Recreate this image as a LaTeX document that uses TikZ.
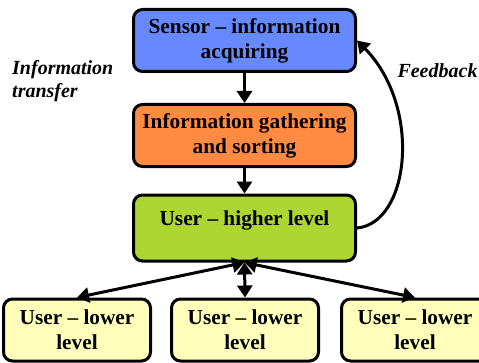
\documentclass[tikz,border=0pt]{standalone}
\usepackage{fontspec}
\setmainfont{Liberation Serif}
\usetikzlibrary{arrows.meta}
\definecolor{sensorblue}{HTML}{6689FF}
\definecolor{gatherorange}{HTML}{FF8A42}
\definecolor{highgreen}{HTML}{ADD632}
\definecolor{lowyellow}{HTML}{FFFFBB}
\tikzset{
    box/.style={draw, line width=3pt, rounded corners=9pt, align=center,
        minimum width=222pt, minimum height=62pt, inner sep=2pt,
        font=\fontsize{21.3}{25}\selectfont\bfseries},
    lowbox/.style={box, fill=lowyellow, minimum width=147pt},
    flow/.style={line width=3pt, -{Triangle[length=12pt,width=15pt]}},
    twoway/.style={line width=3pt, {Triangle[length=12pt,width=15pt]}-{Triangle[length=12pt,width=15pt]}},
    note/.style={font=\fontsize{20}{23}\selectfont\bfseries\itshape, inner sep=0pt}
}

\begin{document}
\begin{tikzpicture}[x=1pt, y=1pt]
    \useasboundingbox (0,0) rectangle (479,362);
    \node[box, fill=sensorblue] (sensor) at (244.5,321.5) {Sensor -- information\\acquiring};
    \node[box, fill=gatherorange] (gather) at (244.5,226.5) {Information gathering\\and sorting};
    \node[box, fill=highgreen, minimum height=66pt] (higher) at (244.5,134) {User -- higher level\\[-6pt] ~};
    \node[lowbox] (lowa) at (77,32) {User -- lower\\level};
    \node[lowbox] (lowb) at (245,32) {User -- lower\\level};
    \node[lowbox] (lowc) at (415,32) {User -- lower\\level};
    % downward information flow
    \draw[flow] (sensor) -- (gather);
    \draw[flow] (gather) -- (higher);
    \foreach \low in {lowa,lowb,lowc}
        \draw[twoway] (higher.south) -- (\low.north);
    % feedback loop
    \draw[flow] (higher.east) .. controls +(53,5) and +(65,-66) .. (sensor.east);
    \node[note, anchor=west, align=left] (transfer) at (12,281) {Information\\transfer};
    \node[note] (feedback) at (437.5,291) {Feedback};
\end{tikzpicture}
\end{document}
